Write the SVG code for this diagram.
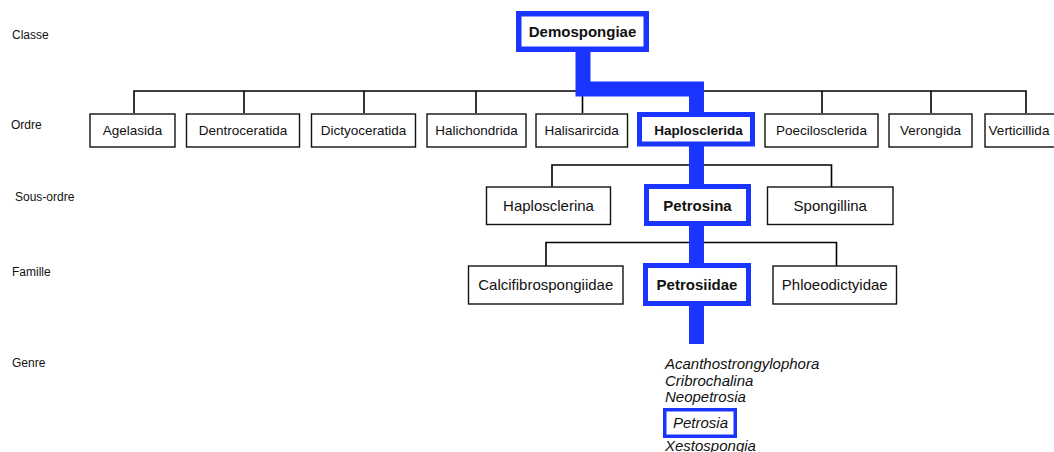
<svg xmlns="http://www.w3.org/2000/svg" width="1054" height="452" viewBox="0 0 1054 452">
<style>
text{font-family:"Liberation Sans",Arial,sans-serif;fill:#111}
.lvl{font-size:12px}
.o{font-size:13.5px;text-anchor:middle}
.s{font-size:15px;text-anchor:middle}
.b{font-weight:bold}
.g{font-size:15px;font-style:italic}
.box{fill:#fff;stroke:#111;stroke-width:1.4}
.hb{fill:#fff;stroke:#1a35ff}
.ln{fill:none;stroke:#000;stroke-width:1.6}
.bl{fill:none;stroke:#1a35ff;stroke-width:15;stroke-linejoin:miter}
</style>
<rect width="1054" height="452" fill="#fff"/>
<g id="levels">
<text class="lvl" x="12" y="39">Classe</text>
<text class="lvl" x="11" y="129">Ordre</text>
<text class="lvl" x="15" y="201">Sous-ordre</text>
<text class="lvl" x="12" y="276">Famille</text>
<text class="lvl" x="12" y="367">Genre</text>
</g>
<g id="connectors">
<path class="ln" d="M134,113V91H1026V113M244,91V113M364,91V113M476,91V113M582.5,91V113M822,91V113M931,91V113"/>
<path class="ln" d="M552,187V165H831.5V187"/>
<path class="ln" d="M546,266V242.5H836.5V266"/>
<path class="bl" d="M583,52V89H696.5V112"/>
<path class="bl" d="M696.5,140V344"/>
</g>
<g id="demospongiae"><rect class="hb" x="518.75" y="13.75" width="127.5" height="35.5" stroke-width="5.5"/><text class="s b" x="582.5" y="37">Demospongiae</text></g>
<g id="agelasida"><rect class="box" x="90" y="114" width="85" height="33"/><text class="o" x="132.5" y="135">Agelasida</text></g>
<g id="dentroceratida"><rect class="box" x="186.5" y="114" width="113" height="33"/><text class="o" x="243" y="135">Dentroceratida</text></g>
<g id="dictyoceratida"><rect class="box" x="311.5" y="114" width="104" height="33"/><text class="o" x="363.5" y="135">Dictyoceratida</text></g>
<g id="halichondrida"><rect class="box" x="427" y="114" width="99" height="33"/><text class="o" x="476.5" y="135">Halichondrida</text></g>
<g id="halisarircida"><rect class="box" x="536" y="114" width="91.5" height="33"/><text class="o" x="581.75" y="135">Halisarircida</text></g>
<g id="haplosclerida"><rect class="hb" x="639.5" y="114.5" width="113" height="29.5" stroke-width="5"/><text class="o b" x="698.5" y="135">Haplosclerida</text></g>
<g id="poecilosclerida"><rect class="box" x="765" y="114" width="113" height="33"/><text class="o" x="821.5" y="135">Poecilosclerida</text></g>
<g id="verongida"><rect class="box" x="889" y="114" width="83" height="33"/><text class="o" x="930.5" y="135">Verongida</text></g>
<g id="verticillida"><rect class="box" x="985" y="114" width="80" height="33"/><text class="o" x="1019" y="135">Verticillida</text></g>
<g id="haplosclerina"><rect class="box" x="486.5" y="187" width="124" height="37.5"/><text class="s" x="548.5" y="211">Haplosclerina</text></g>
<g id="petrosina"><rect class="hb" x="646.5" y="186.5" width="102" height="37" stroke-width="5"/><text class="s b" x="697.5" y="211">Petrosina</text></g>
<g id="spongillina"><rect class="box" x="767.5" y="187" width="125.5" height="37.5"/><text class="s" x="830.25" y="211">Spongillina</text></g>
<g id="calcifibrospongiidae"><rect class="box" x="468.5" y="266" width="154.5" height="38"/><text class="s" x="545.75" y="290">Calcifibrospongiidae</text></g>
<g id="petrosiidae"><rect class="hb" x="645.5" y="265.5" width="103" height="38" stroke-width="5"/><text class="s b" x="697" y="290">Petrosiidae</text></g>
<g id="phloeodictyidae"><rect class="box" x="773" y="266" width="123.5" height="38"/><text class="s" x="834.75" y="290">Phloeodictyidae</text></g>
<g id="genres">
<text class="g" x="665" y="369">Acanthostrongylophora</text>
<text class="g" x="665" y="386">Cribrochalina</text>
<text class="g" x="665" y="402">Neopetrosia</text>
<rect class="hb" x="664.75" y="409.75" width="70.5" height="26.5" stroke-width="3.5"/>
<text class="g" x="673" y="428">Petrosia</text>
<text class="g" x="665" y="451">Xestospongia</text>
</g>
</svg>
